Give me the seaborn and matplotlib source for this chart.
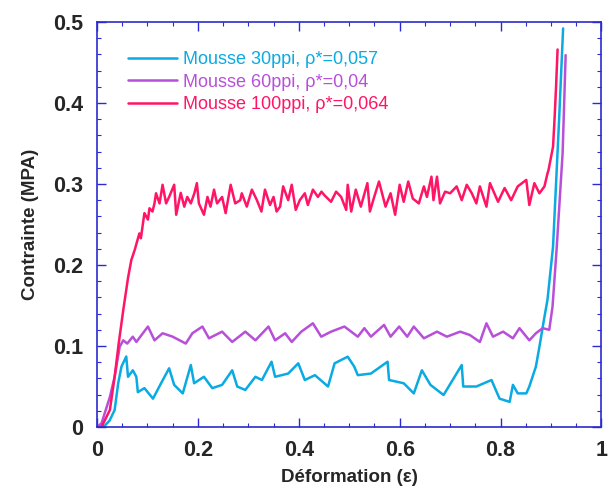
import numpy as np
import pandas as pd
import matplotlib
matplotlib.use("Agg")
import matplotlib.pyplot as plt
import seaborn as sns
from matplotlib.ticker import MultipleLocator, FuncFormatter

# ============================================================
# DATA
# ============================================================

labels = [
    "Mousse 30ppi, ρ*=0,057",
    "Mousse 60ppi, ρ*=0,04",
    "Mousse 100ppi, ρ*=0,064",
]

colors = ["#0aaae2", "#b84fd8", "#ff1466"]

# 30ppi
strain_30 = [0.0, 0.010, 0.016, 0.025, 0.035, 0.042, 0.0485, 0.058, 0.0615, 0.071,
             0.078, 0.081, 0.094, 0.111, 0.127, 0.143, 0.153, 0.170, 0.186, 0.1925,
             0.212, 0.2285, 0.248, 0.268, 0.278, 0.294, 0.314, 0.327, 0.346, 0.353,
             0.379, 0.399, 0.412, 0.432, 0.458, 0.471, 0.497, 0.510, 0.517, 0.543,
             0.576, 0.579, 0.608, 0.628, 0.644, 0.661, 0.687, 0.723, 0.726, 0.752,
             0.782, 0.798, 0.818, 0.8245, 0.834, 0.851, 0.857, 0.870, 0.877, 0.887,
             0.893, 0.904, 0.916, 0.924]
stress_30 = [0.0, 0.0, 0.002, 0.008, 0.021, 0.054, 0.0745, 0.087, 0.062, 0.070,
             0.062, 0.043, 0.048, 0.035, 0.054, 0.0725, 0.052, 0.0415, 0.0765, 0.054,
             0.062, 0.048, 0.052, 0.070, 0.050, 0.0457, 0.062, 0.058, 0.0806, 0.062,
             0.066, 0.0786, 0.058, 0.064, 0.050, 0.0786, 0.0868, 0.0745, 0.064, 0.066,
             0.0806, 0.058, 0.054, 0.0415, 0.070, 0.052, 0.0395, 0.0765, 0.050, 0.050,
             0.058, 0.035, 0.031, 0.052, 0.0415, 0.0415, 0.050, 0.0745, 0.099, 0.136,
             0.157, 0.2225, 0.379, 0.492]

# 60ppi
strain_60 = [0.0, 0.009, 0.0255, 0.035, 0.045, 0.052, 0.060, 0.071, 0.078, 0.101,
             0.114, 0.130, 0.150, 0.176, 0.189, 0.209, 0.222, 0.248, 0.268, 0.294,
             0.314, 0.340, 0.353, 0.373, 0.386, 0.405, 0.428, 0.4445, 0.464, 0.4905,
             0.517, 0.530, 0.543, 0.569, 0.582, 0.599, 0.615, 0.628, 0.648, 0.674,
             0.6935, 0.720, 0.739, 0.759, 0.772, 0.785, 0.805, 0.8245, 0.8375, 0.857,
             0.870, 0.8835, 0.8965, 0.903, 0.911, 0.923, 0.929]
stress_60 = [0.0, 0.0046, 0.037, 0.062, 0.099, 0.107, 0.103, 0.1115, 0.105, 0.124,
             0.107, 0.1157, 0.1115, 0.103, 0.1157, 0.124, 0.1095, 0.1177, 0.105, 0.1177,
             0.107, 0.124, 0.107, 0.1157, 0.105, 0.1177, 0.128, 0.1115, 0.1177, 0.124,
             0.1115, 0.122, 0.1115, 0.126, 0.1115, 0.124, 0.1115, 0.124, 0.1095, 0.1177,
             0.1115, 0.1177, 0.1136, 0.105, 0.128, 0.1115, 0.1177, 0.1095, 0.122, 0.107,
             0.1157, 0.122, 0.120, 0.1485, 0.2185, 0.338, 0.459]

# 100ppi
strain_100 = [0.0, 0.009, 0.0255, 0.035, 0.043, 0.052, 0.0615, 0.068, 0.075, 0.084,
              0.087, 0.094, 0.101, 0.104, 0.110, 0.114, 0.117, 0.124, 0.130, 0.137,
              0.143, 0.153, 0.157, 0.166, 0.173, 0.179, 0.186, 0.193, 0.198, 0.202,
              0.212, 0.219, 0.225, 0.232, 0.238, 0.248, 0.255, 0.265, 0.274, 0.284,
              0.287, 0.297, 0.307, 0.317, 0.326, 0.333, 0.343, 0.350, 0.356, 0.363,
              0.369, 0.379, 0.386, 0.394, 0.402, 0.412, 0.418, 0.428, 0.438, 0.445,
              0.451, 0.464, 0.474, 0.484, 0.494, 0.497, 0.504, 0.513, 0.523, 0.536,
              0.541, 0.5495, 0.559, 0.572, 0.582, 0.591, 0.600, 0.608, 0.617, 0.626,
              0.638, 0.648, 0.654, 0.663, 0.667, 0.674, 0.680, 0.690, 0.700, 0.713,
              0.723, 0.733, 0.743, 0.752, 0.759, 0.772, 0.779, 0.795, 0.808, 0.821,
              0.834, 0.851, 0.857, 0.867, 0.877, 0.887, 0.893, 0.895, 0.904, 0.907,
              0.910, 0.913]
stress_100 = [0.0, 0.0, 0.021, 0.062, 0.103, 0.144, 0.184, 0.206, 0.219, 0.239,
              0.233, 0.264, 0.256, 0.270, 0.266, 0.276, 0.2885, 0.276, 0.299, 0.276,
              0.284, 0.299, 0.262, 0.289, 0.272, 0.284, 0.276, 0.2885, 0.301, 0.276,
              0.262, 0.284, 0.272, 0.293, 0.276, 0.284, 0.264, 0.299, 0.276, 0.280,
              0.2885, 0.272, 0.293, 0.280, 0.266, 0.293, 0.274, 0.284, 0.266, 0.272,
              0.297, 0.280, 0.299, 0.268, 0.280, 0.2885, 0.274, 0.293, 0.284, 0.2905,
              0.286, 0.278, 0.2905, 0.284, 0.268, 0.299, 0.266, 0.293, 0.272, 0.301,
              0.266, 0.284, 0.303, 0.272, 0.2885, 0.262, 0.299, 0.278, 0.303, 0.282,
              0.276, 0.297, 0.284, 0.309, 0.280, 0.309, 0.276, 0.2905, 0.2885, 0.297,
              0.280, 0.299, 0.2885, 0.276, 0.297, 0.272, 0.301, 0.278, 0.295, 0.280,
              0.297, 0.305, 0.274, 0.301, 0.2885, 0.297, 0.313, 0.317, 0.346, 0.380,
              0.420, 0.466]

# ============================================================
# LONG TABLE FOR SEABORN
# ============================================================

df = pd.concat([
    pd.DataFrame({"strain": strain_30, "stress": stress_30, "foam": labels[0]}),
    pd.DataFrame({"strain": strain_60, "stress": stress_60, "foam": labels[1]}),
    pd.DataFrame({"strain": strain_100, "stress": stress_100, "foam": labels[2]}),
], ignore_index=True)

# ============================================================
# PLOT
# ============================================================

sns.set_style("ticks")
plt.rcParams["font.family"] = ["Liberation Sans", "DejaVu Sans"]

fig = plt.figure(figsize=(6.10, 4.94), dpi=100)
ax = fig.add_axes([0.159, 0.1356, 0.827, 0.82])

sns.lineplot(
    data=df,
    x="strain",
    y="stress",
    hue="foam",
    hue_order=labels,
    palette=colors,
    estimator=None,
    sort=False,
    linewidth=1.8,
    ax=ax
)

ax.set_xlim(0, 1)
ax.set_ylim(0, 0.5)

ax.xaxis.set_major_locator(MultipleLocator(0.2))
ax.xaxis.set_minor_locator(MultipleLocator(0.05))
ax.yaxis.set_major_locator(MultipleLocator(0.1))
ax.yaxis.set_minor_locator(MultipleLocator(0.02))

short_fmt = FuncFormatter(lambda v, pos: f"{round(v, 2):g}")
ax.xaxis.set_major_formatter(short_fmt)
ax.yaxis.set_major_formatter(short_fmt)

axis_blue = "#2a2ad0"

for side in ["left", "right", "top", "bottom"]:
    ax.spines[side].set_color(axis_blue)
    ax.spines[side].set_linewidth(1.2)

ax.tick_params(which="both", direction="in", top=True, right=True, color=axis_blue)
ax.tick_params(which="major", length=6.5, width=1.0)
ax.tick_params(which="minor", length=3.0, width=0.8)
ax.tick_params(axis="x", which="major", pad=9, labelsize=15.5)
ax.tick_params(axis="y", which="major", pad=10, labelsize=15.5)

for lbl in ax.get_xticklabels() + ax.get_yticklabels():
    lbl.set_fontweight("bold")

ax.set_xlabel("Déformation (ε)", fontsize=13.5, fontweight="bold", labelpad=6)
ax.set_ylabel("Contrainte (MPA)", fontsize=13.5, fontweight="bold", labelpad=10)

ax.legend(
    loc="upper left",
    bbox_to_anchor=(0.03, 0.968),
    frameon=False,
    fontsize=13,
    handlelength=2.7,
    handletextpad=0.3,
    labelspacing=0.3,
    labelcolor="linecolor"
)

fig.savefig("out.png", dpi=100)
